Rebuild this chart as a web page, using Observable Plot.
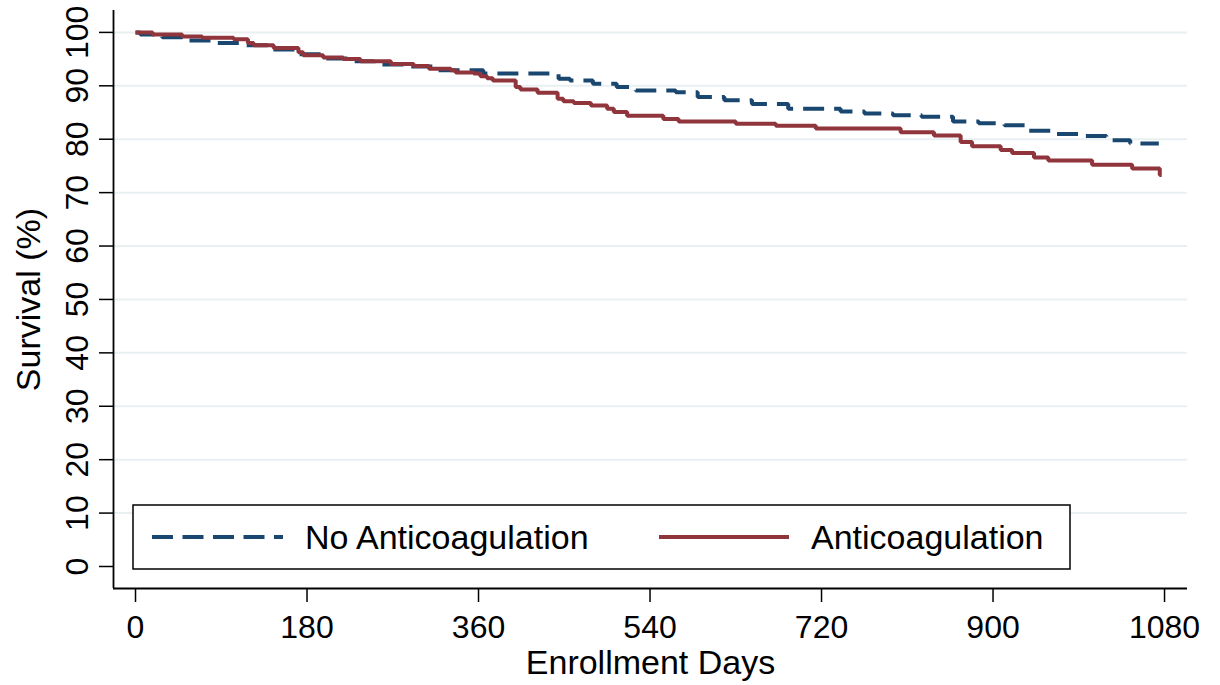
<!DOCTYPE html>
<html>
<head>
<meta charset="utf-8">
<script src="https://cdn.jsdelivr.net/npm/d3@7"></script>
<script src="https://cdn.jsdelivr.net/npm/@observablehq/plot@0.6"></script>
<style>
  html, body { margin: 0; padding: 0; background: #ffffff; }
  #chart { width: 1220px; height: 685px; position: relative; }
  svg { overflow: visible; }
</style>
</head>
<body>
<div id="chart"></div>
<script>
// ---- data ----
const xTicks = [0, 180, 360, 540, 720, 900, 1080];
const yTicks = [0, 10, 20, 30, 40, 50, 60, 70, 80, 90, 100];
const gridTicks = [10, 20, 30, 40, 50, 60, 70, 80, 90, 100];

const seriesNames = ["No Anticoagulation", "Anticoagulation"];

// No Anticoagulation (step function: day where the step starts, survival %)
const noAcDays = [0, 5, 28, 55, 85, 112, 140, 168, 195, 225, 250, 285, 315, 365, 444, 456, 480, 505, 525, 567, 590, 618, 647, 685, 740, 765, 795, 825, 858, 885, 912, 937, 963, 993, 1019, 1044, 1074];
const noAcSurv = [100, 99.6, 99.1, 98.5, 98.0, 97.6, 96.8, 95.9, 95.1, 94.6, 94.0, 93.6, 92.9, 92.3, 91.3, 91.0, 90.4, 89.8, 89.1, 88.8, 87.9, 87.3, 86.6, 85.7, 85.2, 84.8, 84.5, 84.2, 83.3, 83.0, 82.6, 81.6, 81.0, 80.6, 79.8, 79.2, 79.2];

// Anticoagulation
const acDays = [0, 18, 49, 70, 103, 118, 124, 145, 171, 176, 197, 218, 236, 268, 292, 308, 331, 336, 355, 362, 369, 375, 399, 404, 422, 443, 449, 460, 478, 495, 502, 516, 554, 570, 630, 672, 714, 803, 838, 866, 878, 908, 920, 943, 958, 1004, 1046, 1075, 1077];
const acSurv = [100, 99.6, 99.25, 99.0, 98.7, 98.0, 97.6, 97.1, 96.3, 95.7, 95.3, 95.0, 94.6, 94.1, 93.7, 93.2, 92.9, 92.5, 92.3, 91.8, 91.4, 91.0, 89.8, 89.3, 88.7, 87.6, 87.1, 86.8, 86.3, 85.7, 85.1, 84.4, 83.8, 83.3, 82.9, 82.5, 82.0, 81.3, 80.7, 79.5, 78.7, 78.0, 77.4, 76.6, 76.0, 75.2, 74.5, 73.3, 73.3];

// ---- build tables ----
const noAc = noAcDays.map((d, i) => ({day: d, surv: noAcSurv[i]}));
const ac = acDays.map((d, i) => ({day: d, surv: acSurv[i]}));

const BLUE = "#1a476f";
const RED = "#90353b";
const FONT = "'Liberation Sans', Arial, Helvetica, sans-serif";

const xDomain = [-23.1, 1104.1];
const yDomain = [-4.12, 104.1];

const chart = Plot.plot({
  width: 1220,
  height: 685,
  marginLeft: 113,
  marginRight: 33,
  marginTop: 10,
  marginBottom: 97,
  x: {domain: xDomain},
  y: {domain: yDomain},
  style: {fontFamily: FONT, background: "#ffffff", color: "#000000"},
  marks: [
    Plot.gridY(gridTicks, {stroke: "#e8f0f2", strokeOpacity: 1, strokeWidth: 2}),
    Plot.axisY(yTicks, {tickSize: 14, tickFormat: () => "", label: null, strokeWidth: 1.5}),
    Plot.axisX(xTicks, {tickSize: 14, tickFormat: () => "", label: null, strokeWidth: 1.5}),
    Plot.ruleX([xDomain[0]], {stroke: "#000", strokeWidth: 1.8}),
    Plot.ruleY([yDomain[0]], {stroke: "#000", strokeWidth: 1.8}),
    Plot.text(yTicks, {y: d => d, text: d => String(d), frameAnchor: "left", rotate: -90,
      textAnchor: "middle", lineAnchor: "middle", dx: -36, fontSize: 32, fill: "#000"}),
    Plot.text(xTicks, {x: d => d, text: d => String(d), frameAnchor: "bottom",
      textAnchor: "middle", lineAnchor: "bottom", dy: 49, fontSize: 32, fill: "#000"}),
    Plot.text(["Enrollment Days"], {text: d => d, frameAnchor: "bottom", textAnchor: "middle",
      lineAnchor: "bottom", dy: 85, fontSize: 34, fill: "#000"}),
    Plot.text(["Survival (%)"], {text: d => d, frameAnchor: "left", rotate: -90, textAnchor: "middle",
      lineAnchor: "middle", dx: -84, fontSize: 34, fill: "#000"}),
    Plot.line(noAc, {x: "day", y: "surv", curve: "step-after", stroke: BLUE, strokeWidth: 4,
      strokeDasharray: "21,10", strokeLinecap: "butt", strokeLinejoin: "miter"}),
    Plot.line(ac, {x: "day", y: "surv", curve: "step-after", stroke: RED, strokeWidth: 4,
      strokeLinecap: "butt", strokeLinejoin: "miter"})
  ]
});

document.getElementById("chart").appendChild(chart);

// ---- legend box (Stata-style, inside the plot region) ----
const svg = d3.select(chart);
const lg = svg.append("g").attr("font-family", FONT).attr("text-anchor", "start");
lg.append("rect").attr("x", 133).attr("y", 505).attr("width", 937).attr("height", 64)
  .attr("fill", "#ffffff").attr("stroke", "#000").attr("stroke-width", 1.5);
const items = [
  {name: seriesNames[0], color: BLUE, dash: "21,9.5", x0: 152, x1: 283, tx: 305},
  {name: seriesNames[1], color: RED, dash: null, x0: 659, x1: 789, tx: 811}
];
items.forEach(it => {
  const l = lg.append("line").attr("x1", it.x0).attr("x2", it.x1).attr("y1", 537).attr("y2", 537)
    .attr("stroke", it.color).attr("stroke-width", 4);
  if (it.dash) l.attr("stroke-dasharray", it.dash);
  lg.append("text").attr("x", it.tx).attr("y", 537).attr("dy", "0.35em")
    .attr("text-anchor", "start")
    .attr("font-size", 34).attr("fill", "#000").text(it.name);
});
</script>
</body>
</html>
